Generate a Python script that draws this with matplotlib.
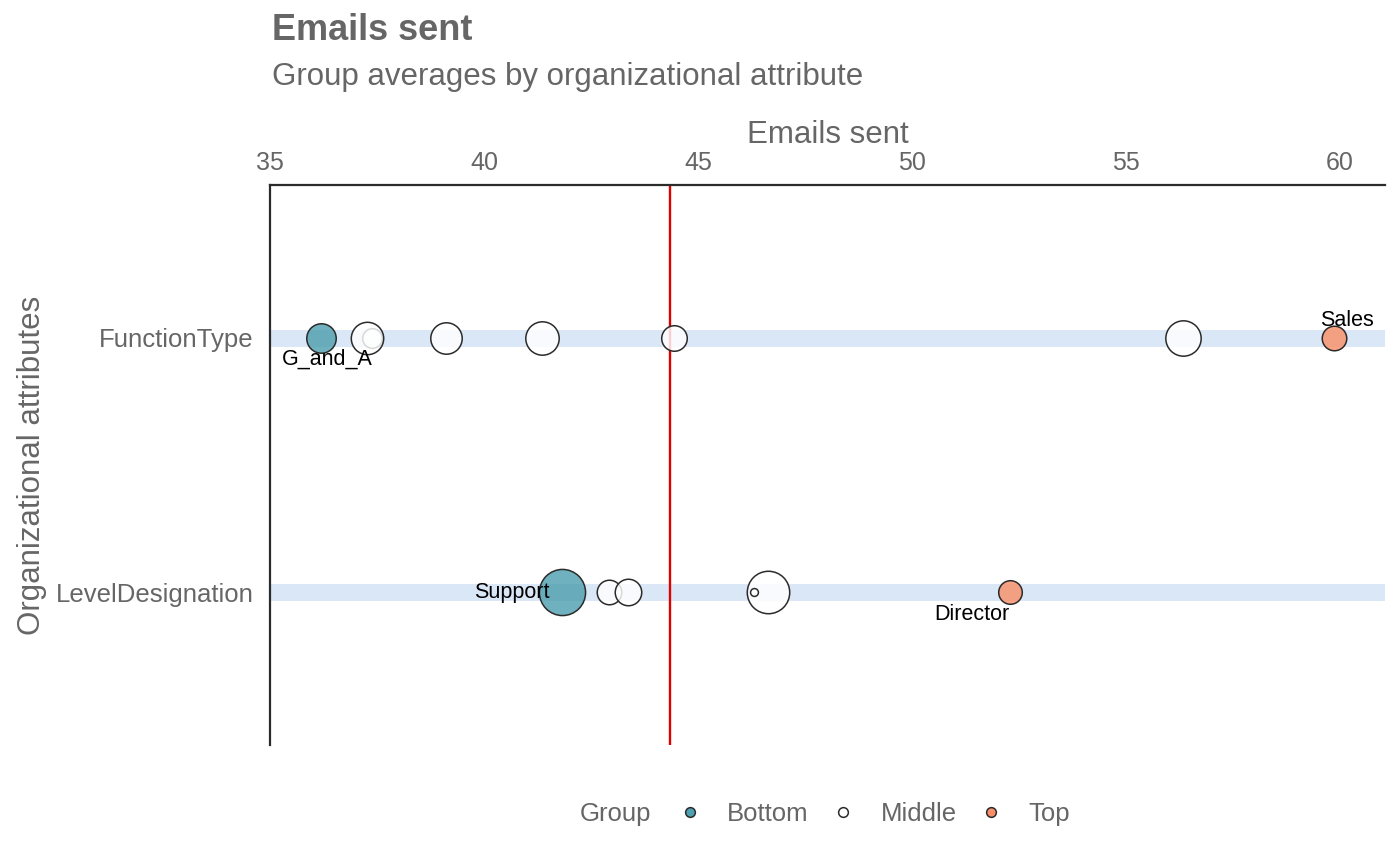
import matplotlib
matplotlib.use("Agg")
import matplotlib.pyplot as plt
from matplotlib.lines import Line2D
from matplotlib.colors import to_rgba

plt.rcParams["font.family"] = ["Liberation Sans", "DejaVu Sans"]

# Data
attributes = ["LevelDesignation", "FunctionType"]
ft_values = [36.19, 37.38, 37.27, 39.11, 41.36, 44.44, 56.33, 59.86]
ft_groups = ["Bottom", "Middle", "Middle", "Middle", "Middle", "Middle", "Middle", "Top"]
ft_n = [225, 100, 272, 256, 289, 169, 324, 156]
ft_labels = ["G_and_A", "", "", "", "", "", "", "Sales"]

ld_values = [41.82, 42.92, 43.36, 46.64, 46.31, 52.29]
ld_groups = ["Bottom", "Middle", "Middle", "Middle", "Middle", "Top"]
ld_n = [552, 156, 182, 467, 16, 144]
ld_labels = ["Support", "", "", "", "", "Director"]

overall_avg = 44.35
xticks = [35, 40, 45, 50, 55, 60]

group_names = ["Bottom", "Middle", "Top"]
group_colors = {"Bottom": "#4fa0b0", "Middle": "#ffffff", "Top": "#f98f68"}
text_grey = "#666666"

fig = plt.figure(figsize=(14, 8.66), dpi=100)
ax = fig.add_axes([270 / 1400, 1 - 745 / 866, 1115 / 1400, 560 / 866])

rows = {"FunctionType": 2, "LevelDesignation": 1}
for name, y in rows.items():
    ax.axhline(y, color="#dae7f6", lw=12.2, zorder=1)

ax.axvline(overall_avg, color="#e00000", lw=1.7, zorder=2)

def draw_row(y, values, groups, ns):
    for v, g, n in zip(values, groups, ns):
        ax.scatter([v], [y], s=n * 2.0, facecolors=[to_rgba(group_colors[g], 0.82)],
                   edgecolors="#2b2b2b", linewidths=1.1, zorder=3)

draw_row(rows["FunctionType"], ft_values, ft_groups, ft_n)
draw_row(rows["LevelDesignation"], ld_values, ld_groups, ld_n)

# point labels
yf = rows["FunctionType"]
yl = rows["LevelDesignation"]
lab_fs = 15.5
ax.text(ft_values[0] + 0.15, yf - 0.045, ft_labels[0], ha="center", va="top", fontsize=lab_fs, zorder=4)
ax.text(ft_values[-1] + 0.3, yf + 0.025, ft_labels[-1], ha="center", va="bottom", fontsize=lab_fs, zorder=4)
ax.text(ld_values[0] - 0.3, yl, ld_labels[0], ha="right", va="center", fontsize=lab_fs, zorder=4)
ax.text(ld_values[-1] - 0.9, yl - 0.045, ld_labels[-1], ha="center", va="top", fontsize=lab_fs, zorder=4)

ax.set_xlim(35, 61.05)
ax.set_ylim(0.4, 2.6)
ax.set_yticks([rows[a] for a in attributes])
ax.set_yticklabels(attributes)
ax.set_xticks(xticks)
ax.xaxis.tick_top()
ax.xaxis.set_label_position("top")
ax.tick_params(length=0, labelcolor=text_grey)
ax.tick_params(axis="x", pad=7, labelsize=18)
ax.tick_params(axis="y", pad=12, labelsize=18.5)
for side in ["right", "bottom"]:
    ax.spines[side].set_visible(False)
for side in ["left", "top"]:
    ax.spines[side].set_color("#2b2b2b")
    ax.spines[side].set_linewidth(1.6)

ax.set_xlabel("Emails sent", fontsize=22.5, color=text_grey, labelpad=6)
ax.set_ylabel("Organizational attributes", fontsize=22.5, color=text_grey, labelpad=6)

fig.text(272 / 1400, 1 - 31 / 866, "Emails sent", fontsize=26, fontweight="bold",
         color=text_grey, va="center")
fig.text(272 / 1400, 1 - 77 / 866, "Group averages by organizational attribute", fontsize=22.5,
         color=text_grey, va="center")

# legend: title drawn inline to the left of the entries
fig.text(580 / 1400, 1 - 814 / 866, "Group", fontsize=18.5, color=text_grey, va="center")
handles = [Line2D([], [], ls="", marker="o", markersize=7, markerfacecolor=group_colors[g],
                  markeredgecolor="#2b2b2b", markeredgewidth=1.1, label=g)
           for g in group_names]
fig.legend(handles=handles, loc="center left", bbox_to_anchor=(677 / 1400, 1 - 814 / 866),
           ncol=3, frameon=False, fontsize=18.5, handletextpad=0.95, columnspacing=0.85,
           handlelength=1.0, labelcolor=text_grey, borderpad=0, borderaxespad=0)

fig.savefig("out.png", dpi=100)
